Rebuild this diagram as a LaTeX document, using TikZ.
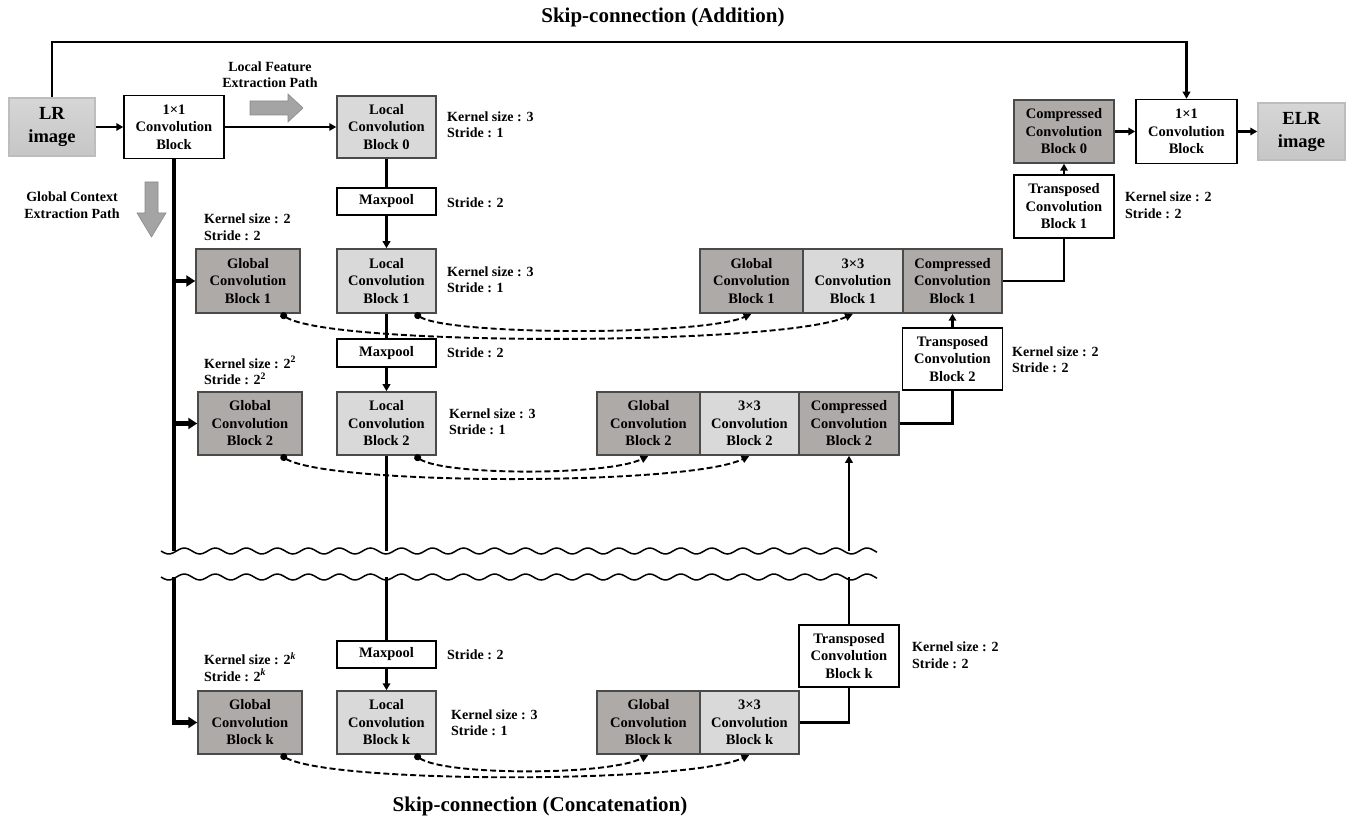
\documentclass[tikz,border=0pt]{standalone}
\usepackage{fontspec}
\setmainfont{Liberation Serif}
\usetikzlibrary{arrows.meta}
\definecolor{boxdark}{HTML}{AEAAA8}
\definecolor{boxlight}{HTML}{D9D9D9}
\definecolor{edgegray}{HTML}{4A4A4A}
\definecolor{imgtop}{HTML}{D6D6D6}
\definecolor{imgbot}{HTML}{C6C6C6}
\definecolor{imgedge}{HTML}{BDBDBD}
\definecolor{barrowfill}{HTML}{A4A4A4}
\definecolor{barrowedge}{HTML}{8A8A8A}
\newcommand{\boxfont}{\bfseries\fontsize{14.5}{17.5}\selectfont}
\newcommand{\notefont}{\bfseries\fontsize{14}{16.5}\selectfont}
\tikzset{
  box/.style={draw, line width=1.5pt, align=center, inner sep=0pt,
    minimum width=100pt, minimum height=63pt, font=\boxfont},
  wbox/.style={box, fill=white, draw=black},
  lbox/.style={box, fill=boxlight, draw=edgegray},
  gbox/.style={box, fill=boxdark, draw=edgegray},
  poolbox/.style={wbox, minimum width=99pt, minimum height=27pt},
  imgbox/.style={draw=imgedge, line width=1.5pt, top color=imgtop, bottom color=imgbot,
    align=center, inner sep=0pt, font=\bfseries\fontsize{18.5}{23}\selectfont},
  note/.style={anchor=west, align=left, inner sep=0pt, font=\notefont},
  title/.style={inner sep=0pt, font=\bfseries\fontsize{21}{24}\selectfont},
  line/.style={line width=2.2pt},
  arr/.style={line, -{Triangle[length=7pt,width=7.5pt]}},
  trunk/.style={line width=4.4pt, line join=miter},
  trunkarr/.style={trunk, -{Triangle[length=9pt,width=11pt]}},
  skipcat/.style={line width=1.9pt, dash pattern=on 6pt off 3pt,
    {Circle[length=7pt]}-{Triangle[length=8pt,width=7.5pt]}},
  barrow/.style={fill=barrowfill, draw=barrowedge, line width=0.6pt},
  wave/.style={line width=1.5pt}
}
\begin{document}
\begin{tikzpicture}[x=1pt,y=-1pt]
\useasboundingbox (0,0) rectangle (1350,818);
\coordinate (skipy) at (0,42);
\coordinate (whi) at (0,551);
\coordinate (wlo) at (0,577);

\node[title] (tadd) at (663,17) {Skip-connection (Addition)};
\node[title] (tcat) at (540,806) {Skip-connection (Concatenation)};

\node[imgbox, minimum width=86pt, minimum height=58pt] (LR) at (52,127) {LR\\image};
\node[wbox] (C1) at (174,127) {1×1\\Convolution\\Block};
\node[lbox, minimum width=99pt, minimum height=62pt] (L0) at (386.5,127) {Local\\Convolution\\Block 0};
\node[poolbox] (MP1) at (386.5,201.5) {Maxpool};
\node[gbox, minimum width=104pt, minimum height=64pt] (G1) at (248,281) {Global\\Convolution\\Block 1};
\node[lbox, minimum width=99pt, minimum height=64pt] (L1) at (386.5,281) {Local\\Convolution\\Block 1};
\node[poolbox, minimum height=28pt] (MP2) at (386.5,353) {Maxpool};
\node[gbox, minimum width=104pt] (G2) at (250,423.5) {Global\\Convolution\\Block 2};
\node[lbox, minimum width=99pt] (L2) at (386.5,423.5) {Local\\Convolution\\Block 2};
\node[poolbox] (MPk) at (386.5,654.5) {Maxpool};
\node[gbox, minimum width=104pt] (Gk) at (250,722.5) {Global\\Convolution\\Block k};
\node[lbox, minimum width=99pt] (Lk) at (386.5,722.5) {Local\\Convolution\\Block k};

\node[gbox, minimum width=103pt, minimum height=64pt] (GR1) at (751.5,281) {Global\\Convolution\\Block 1};
\node[lbox, minimum height=64pt] (TC1) at (853,281) {3×3\\Convolution\\Block 1};
\node[gbox, minimum width=99pt, minimum height=64pt] (CP1) at (952.5,281) {Compressed\\Convolution\\Block 1};
\node[wbox, minimum height=62pt] (TR2) at (952.5,359) {Transposed\\Convolution\\Block 2};
\node[wbox] (TR1) at (1064,206.5) {Transposed\\Convolution\\Block 1};
\node[gbox] (CP0) at (1064,131.5) {Compressed\\Convolution\\Block 0};
\node[wbox, minimum width=101pt, minimum height=64pt] (C2) at (1186.5,131.5) {1×1\\Convolution\\Block};
\node[imgbox, minimum width=87pt, minimum height=57pt] (ELR) at (1301.5,131.5) {ELR\\image};
\node[gbox, minimum width=103pt] (GR2) at (648.5,423.5) {Global\\Convolution\\Block 2};
\node[lbox, minimum width=99pt] (TC2) at (749.5,423.5) {3×3\\Convolution\\Block 2};
\node[gbox] (CP2) at (849,423.5) {Compressed\\Convolution\\Block 2};
\node[wbox, minimum height=62pt] (TRk) at (849,656) {Transposed\\Convolution\\Block k};
\node[gbox, minimum width=103pt] (GRk) at (648.5,722.5) {Global\\Convolution\\Block k};
\node[lbox, minimum width=99pt] (TCk) at (749.5,722.5) {3×3\\Convolution\\Block k};

\node[note] (nL0) at (447,124.5) {Kernel size : 3\\Stride : 1};
\node[note] (nMP1) at (447,203) {Stride : 2};
\node[note] (nG1) at (204,227) {Kernel size : 2\\Stride : 2};
\node[note] (nL1) at (447,279.5) {Kernel size : 3\\Stride : 1};
\node[note] (nMP2) at (447,353) {Stride : 2};
\node[note] (nG2) at (204,370.5) {Kernel size : 2\textsuperscript{2}\\Stride : 2\textsuperscript{2}};
\node[note] (nL2) at (449,421.5) {Kernel size : 3\\Stride : 1};
\node[note] (nTR1) at (1125,205) {Kernel size : 2\\Stride : 2};
\node[note] (nTR2) at (1012,359.5) {Kernel size : 2\\Stride : 2};
\node[note] (nMPk) at (447,655) {Stride : 2};
\node[note] (nGk) at (204,667) {Kernel size : 2\textsuperscript{\itshape k}\\Stride : 2\textsuperscript{\itshape k}};
\node[note] (nLk) at (451,722.5) {Kernel size : 3\\Stride : 1};
\node[note] (nTRk) at (912,655) {Kernel size : 2\\Stride : 2};

\node[inner sep=0pt, align=center, font=\notefont] (lpath) at (270,74.5) {Local Feature\\Extraction Path};
\node[inner sep=0pt, align=center, font=\notefont] (gpath) at (72,205) {Global Context\\Extraction Path};
\filldraw[barrow] (250,101) -- (288,101) -- (288,94) -- (303,108) -- (288,122) -- (288,115) -- (250,115) -- cycle;
\filldraw[barrow] (145,182) -- (158,182) -- (158,213) -- (166,213) -- (151.5,237) -- (137,213) -- (145,213) -- cycle;

\foreach \wy in {551,577}
  \draw[wave] plot[domain=161:877, samples=240, smooth] (\x, {\wy + 3*sin((\x-161)*11.6)});

\draw[arr] (LR.north) |- (skipy -| C2.north) -- (C2.north);
\draw[arr] (LR.east) -- (C1.west);
\draw[arr] (C1.east) -- (L0.west);
\draw[line] (L0.south) -- (MP1.north);
\draw[arr] (MP1.south) -- (L1.north);
\draw[line] (L1.south) -- (MP2.north);
\draw[arr] (MP2.south) -- (L2.north);
\draw[line] (L2.south) -- (L2.south |- whi);
\draw[line] (MPk.north |- wlo) -- (MPk.north);
\draw[arr] (MPk.south) -- (Lk.north);

\draw[trunk] (C1.south) -- (C1.south |- whi);
\draw[trunkarr] (C1.south |- G1.west) -- (G1.west);
\draw[trunkarr] (C1.south |- G2.west) -- (G2.west);
\draw[trunkarr] (C1.south |- wlo) |- (Gk.west);

\draw[line] (CP1.east) -| (TR1.south);
\draw[arr] (TR1.north) -- (CP0.south);
\draw[arr] (CP0.east) -- (C2.west);
\draw[arr] (C2.east) -- (ELR.west);
\draw[line] (CP2.east) -| (TR2.south);
\draw[arr] (TR2.north) -- (CP1.south);
\draw[line] (TCk.east) -| (TRk.south);
\draw[line] (TRk.north) -- (TRk.north |- wlo);
\draw[arr] (CP2.south |- whi) -- (CP2.south);

\draw[skipcat] ([xshift=-20pt]G1.south east) .. controls +(50,33) and +(-70,32) .. (TC1.south);
\draw[skipcat] ([xshift=-22pt]L1.south east) .. controls +(36,22) and +(-48,22) .. (GR1.south);
\draw[skipcat] ([xshift=-22pt]G2.south east) .. controls +(50,30) and +(-60,30) .. (TC2.south);
\draw[skipcat] ([xshift=-22pt]L2.south east) .. controls +(30,20) and +(-40,20) .. (GR2.south);
\draw[skipcat] ([xshift=-22pt]Gk.south east) .. controls +(50,29) and +(-60,29) .. (TCk.south);
\draw[skipcat] ([xshift=-22pt]Lk.south east) .. controls +(30,21) and +(-40,21) .. (GRk.south);
\end{tikzpicture}
\end{document}
